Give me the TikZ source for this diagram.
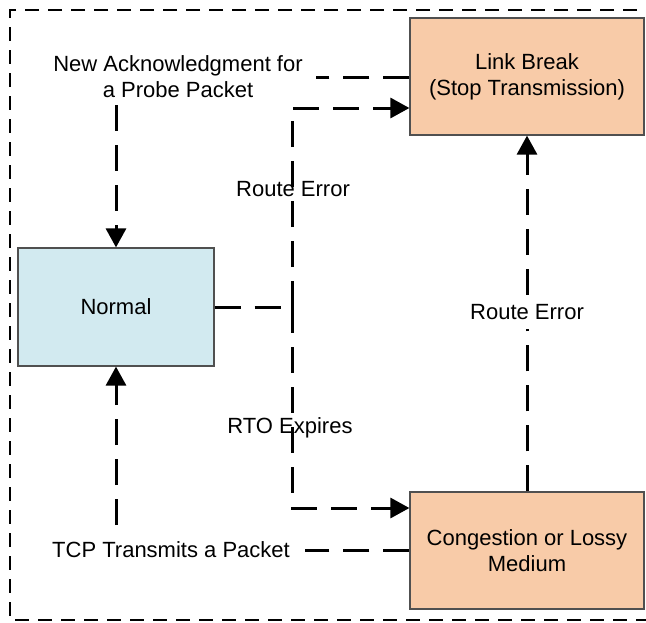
\documentclass[tikz,border=0pt]{standalone}
\usepackage{fontspec}
\setmainfont{Liberation Sans}
\usetikzlibrary{arrows.meta}
\definecolor{normalfill}{RGB}{210,234,240}
\definecolor{orangefill}{RGB}{248,203,168}
\definecolor{boxline}{RGB}{80,80,80}
\begin{document}
\begin{tikzpicture}[x=0.5pt,y=-0.5pt,
  font=\fontsize{11}{13}\selectfont,
  statebox/.style={draw=boxline,line width=0.6pt,rectangle,align=center,inner sep=0pt},
  conn/.style={line width=1.5pt,dash pattern=on 13pt off 7pt},
  tip/.style={-{Triangle[length=9.5pt,width=10pt]}},
  lbl/.style={inner sep=0pt,align=center},
  frame/.style={line width=0.75pt,dash pattern=on 7pt off 4.5pt}]
\useasboundingbox (0,0) rectangle (646,622);
\draw[frame] (660,10) -- (10,10) -- (10,620) -- (660,620);

\node[statebox,fill=normalfill,minimum width=98pt,minimum height=59pt] (normal) at (116,307) {Normal};
\node[statebox,fill=orangefill,minimum width=117pt,minimum height=58.5pt] (link) at (527,76.5) {Link Break\\(Stop Transmission)};
\node[statebox,fill=orangefill,minimum width=117pt,minimum height=58.5pt] (cong) at (527,550.5) {Congestion or Lossy\\Medium};

\node[lbl] (ack) at (178,77) {New Acknowledgment for\\a Probe Packet};
\node[lbl] (re1) at (293,189) {Route Error};
\node[lbl] (rto) at (290,428) {RTO Expires};
\node[lbl,minimum height=17pt] (re2) at (527,312) {Route Error};
\node[lbl] (tcp) at (171,550) {TCP Transmits a Packet};

\coordinate (ackend) at (316,77);
\coordinate (ackdown) at (116,105);
\coordinate (j) at (292,307);
\coordinate (jtop) at (292,108);
\coordinate (jbot) at (292,508);
\coordinate (tcpend) at (305,550);
\coordinate (tcpup) at (116,525);

% Link break -> new ack label -> normal
\draw[conn] (link.west |- ackend) -- (ackend);
\draw[conn,tip] (ackdown) -- (normal.north);
% Normal -> route error -> link break ; RTO -> congestion
\draw[conn] (normal.east) -- (j);
\draw[conn,tip] (j) -- (jtop) -- (link.west |- jtop);
\draw[conn,tip] (j) -- (jbot) -- (cong.west |- jbot);
% Congestion -> route error -> link break
\draw[conn] (cong.north) -- (re2.south);
\draw[conn,tip] (re2.north) -- (link.south);
% Congestion -> TCP transmits -> normal
\draw[conn] (cong.west |- tcpend) -- (tcpend);
\draw[conn,tip] (tcpup) -- (normal.south);
\end{tikzpicture}
\end{document}
